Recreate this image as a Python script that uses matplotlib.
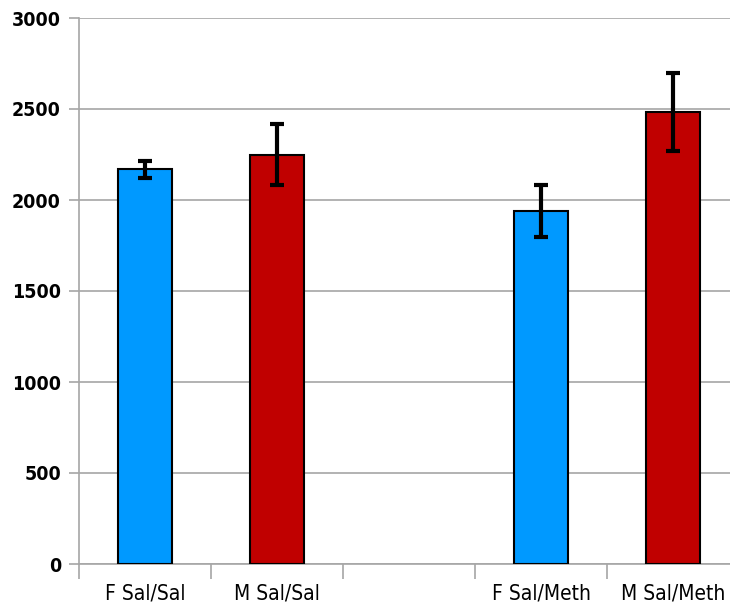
import matplotlib.pyplot as plt
import numpy as np

labels = ['F Sal/Sal', 'M Sal/Sal', '', 'F Sal/Meth', 'M Sal/Meth']
values = [2170, 2250, None, 1940, 2485]
errors = [47, 165, None, 145, 215]
colors = ['#0099FF', '#C00000', None, '#0099FF', '#C00000']

plt.rcParams['font.family'] = ['DejaVu Sans']
plt.rcParams['font.stretch'] = 'condensed'

fig = plt.figure(figsize=(7.3, 6.1), dpi=100)
ax = fig.add_axes([79/730, 1-564/610, 660/730, 546/610])

for i in range(len(labels)):
    if values[i] is None:
        continue
    ax.bar(i, values[i], width=0.41, color=colors[i], edgecolor='black',
           linewidth=1.5, zorder=3)
    ax.errorbar(i, values[i], yerr=errors[i], fmt='none', ecolor='black',
                elinewidth=3, capsize=5, capthick=3, zorder=4)

ax.set_xlim(-0.5, 4.5)
ax.set_ylim(0, 3000)
ax.set_yticks(np.arange(0, 3001, 500))
ax.yaxis.grid(True, color='#a6a6a6', linewidth=1.2, zorder=0)
ax.set_axisbelow(True)

ax.set_xticks(range(5))
ax.set_xticklabels(labels, fontsize=15)
ax.tick_params(axis='x', length=0, pad=14)
ax.set_xticks(np.arange(-0.5, 4.6, 1), minor=True)
ax.tick_params(axis='x', which='minor', length=11, color='#a6a6a6', width=1.2)
ax.tick_params(axis='y', length=7, color='#a6a6a6', width=1.2, labelsize=14, pad=6)
for t in ax.get_yticklabels():
    t.set_fontweight('bold')

for s in ['top', 'right']:
    ax.spines[s].set_visible(False)
for s in ['left', 'bottom']:
    ax.spines[s].set_color('#a6a6a6')
    ax.spines[s].set_linewidth(1.2)

fig.savefig('out.png', dpi=100)
